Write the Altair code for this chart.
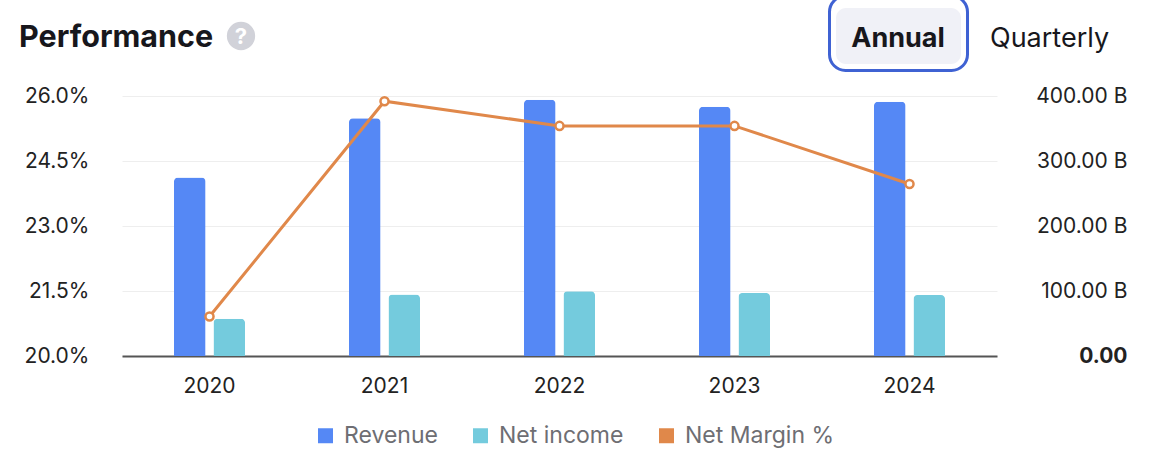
import altair as alt
import pandas as pd

# Annual figures (USD billions) and net margin (%)
years = ["2020", "2021", "2022", "2023", "2024"]
revenue_b = [274.5, 365.8, 394.3, 383.3, 391.0]
net_income_b = [57.4, 94.7, 99.8, 97.0, 93.7]
net_margin_pct = [20.91, 25.88, 25.31, 25.31, 23.97]

series = ["Revenue", "Net income", "Net Margin %"]
series_colors = ["#5588F5", "#74CBDD", "#E0884A"]

left_ticks = [20.0, 21.5, 23.0, 24.5, 26.0]
right_ticks = [0, 100, 200, 300, 400]

FONT = "Inter"
LINE_COLOR = "#E0884A"

# plot-area geometry (autosize none: padding places the plot in the page)
W, H = 875, 260
PAD_L, PAD_T = 122, 96
PAD_R = 1168 - PAD_L - W
PAD_B = 460 - PAD_T - H


def px(x):
    return x - PAD_L


def py(y):
    return y - PAD_T


bars_df = pd.DataFrame({
    "year": years * 2,
    "series": ["Revenue"] * len(years) + ["Net income"] * len(years),
    "value": revenue_b + net_income_b,
})
margin_df = pd.DataFrame({"year": years, "margin": net_margin_pct})
one = pd.DataFrame({"k": [0]})

x_enc = alt.X(
    "year:N",
    sort=years,
    scale=alt.Scale(paddingInner=0.594, paddingOuter=0.297),
    axis=alt.Axis(
        title=None, labelAngle=0, ticks=False, grid=False,
        domain=True, domainColor="#555555", domainWidth=2,
        labelFont=FONT, labelFontSize=21, labelColor="#222222",
        labelPadding=19,
    ),
)

bars = alt.Chart(bars_df).mark_bar(
    cornerRadiusTopLeft=4, cornerRadiusTopRight=4
).encode(
    x=x_enc,
    xOffset=alt.XOffset(
        "series:N", sort=series[:2],
        scale=alt.Scale(paddingInner=0.2, paddingOuter=0),
    ),
    y=alt.Y(
        "value:Q",
        scale=alt.Scale(domain=[0, 400], nice=False, zero=True),
        axis=alt.Axis(
            orient="right", values=right_ticks, title=None,
            grid=False, domain=False, ticks=False,
            labelAlign="right", labelPadding=130,
            labelFont=FONT, labelFontSize=21, labelColor="#222222",
            labelExpr="datum.value == 0 ? '0.00' : format(datum.value, '.2f') + ' B'",
            labelFontWeight={"condition": {"test": "datum.value == 0", "value": "bold"},
                             "value": "normal"},
        ),
    ),
    color=alt.Color(
        "series:N",
        scale=alt.Scale(domain=series, range=series_colors),
        legend=alt.Legend(
            title=None, orient="none", legendX=192, legendY=328,
            direction="horizontal", symbolType="square", symbolSize=225,
            symbolStrokeWidth=0, symbolOpacity=1,
            labelFont=FONT, labelFontSize=23, labelColor="#6E6E73",
            columnPadding=31, labelOffset=7,
        ),
    ),
)

margin_y = alt.Y(
    "margin:Q",
    scale=alt.Scale(domain=[20, 26], nice=False, zero=False),
    axis=alt.Axis(
        orient="left", values=left_ticks, title=None,
        grid=True, gridColor="#EEEEEE", gridWidth=1,
        domain=False, ticks=False, labelPadding=33,
        labelFont=FONT, labelFontSize=21, labelColor="#222222",
        labelExpr="format(datum.value, '.1f') + '%'",
    ),
)

line = alt.Chart(margin_df).mark_line(color=LINE_COLOR, strokeWidth=3).encode(
    x=x_enc, y=margin_y
)
points = alt.Chart(margin_df).mark_point(
    shape="circle", filled=True, fill="white", stroke=LINE_COLOR,
    strokeWidth=2.5, size=65, opacity=1,
).encode(x=x_enc, y=margin_y)

margin_layer = alt.layer(line, points)

# header: title, help badge and period toggle
title = alt.Chart(one).mark_text(
    text="Performance", font=FONT, fontSize=30.5, fontWeight="bold",
    align="left", baseline="alphabetic", color="#17171C",
).encode(x=alt.value(px(19)), y=alt.value(py(47)))

badge = alt.Chart(one).mark_circle(color="#D1D2D9", opacity=1, size=800).encode(
    x=alt.value(px(241)), y=alt.value(py(36))
)
badge_q = alt.Chart(one).mark_text(
    text="?", font=FONT, fontSize=22, fontWeight="bold",
    align="center", baseline="alphabetic", color="white",
).encode(x=alt.value(px(241)), y=alt.value(py(44)))

btn_outer = alt.Chart(one).mark_rect(
    fill="white", stroke="#3F62D3", strokeWidth=3, cornerRadius=16
).encode(
    x=alt.value(px(829.5)), x2=alt.value(px(967.5)),
    y=alt.value(py(-4)), y2=alt.value(py(70.5)),
)
btn_inner = alt.Chart(one).mark_rect(fill="#F0F1F7", cornerRadius=10).encode(
    x=alt.value(px(836)), x2=alt.value(px(961)),
    y=alt.value(py(8)), y2=alt.value(py(64)),
)
btn_text = alt.Chart(one).mark_text(
    text="Annual", font=FONT, fontSize=27, fontWeight="bold",
    align="center", baseline="alphabetic", color="#17171C",
).encode(x=alt.value(px(898)), y=alt.value(py(47)))
quarterly = alt.Chart(one).mark_text(
    text="Quarterly", font=FONT, fontSize=27,
    align="left", baseline="alphabetic", color="#17171C",
).encode(x=alt.value(px(990)), y=alt.value(py(47)))

chart = alt.layer(
    bars, margin_layer,
    title, badge, badge_q, btn_outer, btn_inner, btn_text, quarterly,
).resolve_scale(y="independent").properties(
    width=W, height=H,
    autosize=alt.AutoSizeParams(type="none"),
    padding={"left": PAD_L, "top": PAD_T, "right": PAD_R, "bottom": PAD_B},
).configure(
    background="white",
    view=alt.ViewConfig(stroke="transparent", strokeWidth=0),
)

chart.save("out.html", embed_options={"renderer": "svg", "actions": False})
